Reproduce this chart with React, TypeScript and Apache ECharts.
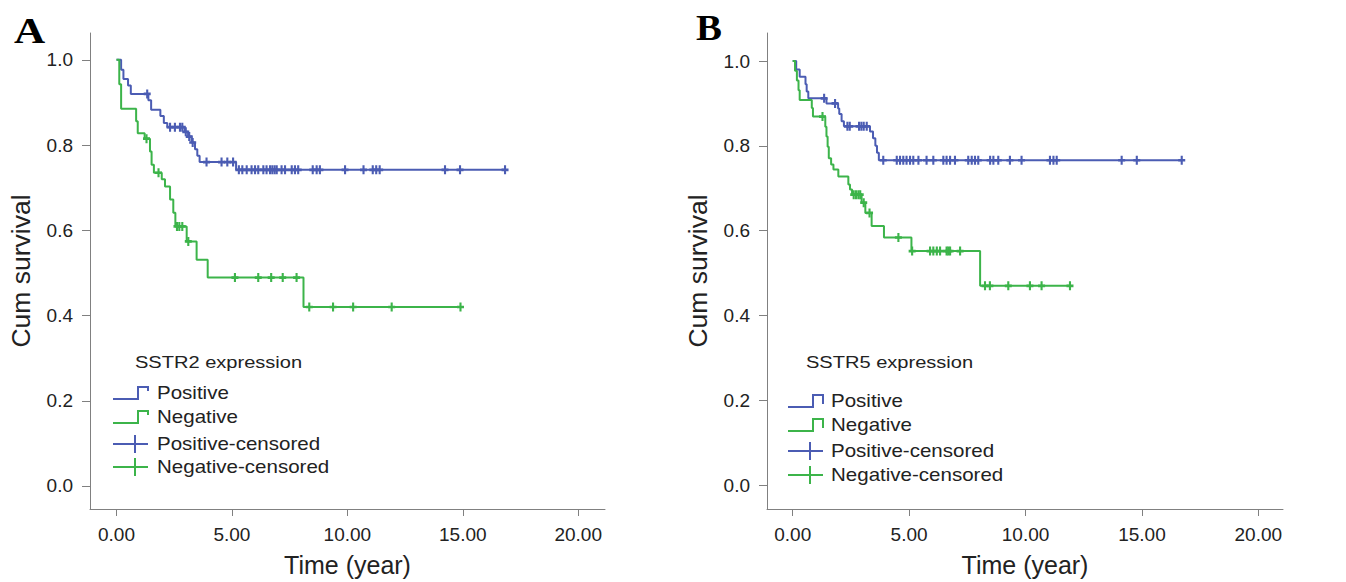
import React, { useEffect, useRef } from "react";
import * as echarts from "echarts";

// ---------- Data ----------
// Panel A: SSTR2 expression
const posA_t = [0, 0.2, 0.3, 0.5, 0.62, 1.38, 1.5, 1.9, 2.05, 2.2, 2.95, 3.1, 3.25, 3.4, 3.5, 3.6, 5.18];
const posA_s = [1.0, 0.977, 0.955, 0.94, 0.92, 0.905, 0.883, 0.868, 0.852, 0.842, 0.831, 0.82, 0.806, 0.79, 0.775, 0.76, 0.742];
const posA_cens = [1.33, 2.32, 2.53, 2.75, 2.85, 3.0, 3.15, 3.3, 3.9, 4.55, 4.8, 5.05, 5.3, 5.45, 5.64, 5.85, 6.0, 6.14, 6.36, 6.5, 6.65, 6.75, 6.85, 6.94, 7.15, 7.3, 7.59, 7.73, 7.87, 8.5, 8.67, 8.81, 9.9, 10.7, 11.1, 11.25, 11.4, 14.23, 14.88, 16.83];

const negA_t = [0, 0.12, 0.2, 0.85, 0.92, 1.22, 1.45, 1.52, 1.62, 1.96, 2.1, 2.32, 2.46, 2.55, 3.04, 3.47, 3.95, 8.1];
const negA_s = [1.0, 0.943, 0.885, 0.856, 0.828, 0.815, 0.785, 0.754, 0.735, 0.72, 0.703, 0.672, 0.641, 0.609, 0.574, 0.531, 0.489, 0.42];
const negA_cens = [1.3, 1.82, 2.62, 2.72, 2.85, 3.11, 5.13, 6.14, 6.7, 7.2, 7.8, 8.35, 9.38, 10.25, 11.92, 14.9];

// Panel B: SSTR5 expression
const posB_t = [0, 0.15, 0.3, 0.55, 0.6, 0.67, 1.45, 1.95, 2.0, 2.1, 2.2, 3.32, 3.45, 3.55, 3.62, 3.7];
const posB_s = [1.0, 0.98, 0.963, 0.945, 0.928, 0.912, 0.9, 0.888, 0.875, 0.858, 0.846, 0.834, 0.818, 0.8, 0.784, 0.766];
const posB_cens = [1.35, 1.82, 2.35, 2.45, 2.85, 2.95, 3.05, 3.18, 3.89, 4.47, 4.61, 4.75, 4.89, 5.04, 5.18, 5.4, 5.75, 6.04, 6.47, 6.61, 6.76, 6.97, 7.54, 7.69, 7.83, 7.97, 8.48, 8.62, 8.83, 9.33, 9.83, 11.05, 11.2, 11.34, 14.13, 14.78, 16.71];

const negB_t = [0, 0.1, 0.18, 0.25, 0.3, 0.82, 0.87, 1.4, 1.45, 1.5, 1.55, 1.65, 1.75, 1.96, 2.39, 2.46, 2.55, 2.96, 3.12, 3.39, 3.92, 5.1, 8.05];
const negB_s = [1.0, 0.977, 0.954, 0.931, 0.908, 0.889, 0.869, 0.845, 0.822, 0.798, 0.771, 0.756, 0.744, 0.728, 0.709, 0.697, 0.685, 0.666, 0.642, 0.611, 0.584, 0.552, 0.47];
const negB_cens = [1.28, 2.62, 2.72, 2.82, 2.9, 3.05, 3.3, 4.54, 5.13, 5.9, 6.04, 6.19, 6.33, 6.61, 6.68, 6.76, 7.19, 8.26, 8.47, 9.26, 10.19, 10.69, 11.91];

const xTicks = [0, 5, 10, 15, 20];
const yTicks = [0, 0.2, 0.4, 0.6, 0.8, 1.0];
const legendItems = ["Positive", "Negative", "Positive-censored", "Negative-censored"];

const BLUE = "#4b5cb3";
const GREEN = "#3cb44a";
const AXIS = "#808080";
const TEXT = "#222";
const FONT = "'Liberation Sans', Arial, sans-serif";

function survAt(ts: number[], ss: number[], t: number) {
  let s = ss[0];
  for (let i = 0; i < ts.length; i++) if (ts[i] <= t) s = ss[i];
  return s;
}
function stepData(ts: number[], ss: number[], cens: number[]) {
  const d = ts.map((t, i) => [t, ss[i]]);
  const lastC = cens[cens.length - 1];
  if (lastC > ts[ts.length - 1]) d.push([lastC, ss[ss.length - 1]]);
  return d;
}
function censData(ts: number[], ss: number[], cens: number[]) {
  return cens.map((t) => [t, survAt(ts, ss, t)]);
}

const PLUS = "path://M3.5,0H6.5V3.5H10V6.5H6.5V10H3.5V6.5H0V3.5H3.5Z";

function axes(idx: number, xmin: number, xmax: number, ymin: number, ymax: number) {
  const x = {
    type: "value", gridIndex: idx, min: xmin, max: xmax,
    splitLine: { show: false },
    axisLine: { show: true, onZero: false, lineStyle: { color: AXIS, width: 1 } },
    axisTick: { show: true, length: 7, customValues: xTicks, lineStyle: { color: AXIS } },
    axisLabel: { customValues: xTicks, margin: 16, color: TEXT, fontSize: 19, fontFamily: FONT, formatter: (v: number) => v.toFixed(2) },
    name: "Time (year)", nameLocation: "middle", nameGap: 43,
    nameTextStyle: { fontSize: 25, color: TEXT, fontFamily: FONT },
  };
  const y = {
    type: "value", gridIndex: idx, min: ymin, max: ymax,
    splitLine: { show: false },
    axisLine: { show: true, onZero: false, lineStyle: { color: AXIS, width: 1 } },
    axisTick: { show: true, length: 8, customValues: yTicks, lineStyle: { color: AXIS } },
    axisLabel: { customValues: yTicks, margin: 17, color: TEXT, fontSize: 19, fontFamily: FONT, formatter: (v: number) => v.toFixed(1) },
    name: "Cum survival", nameLocation: "middle", nameGap: 56,
    nameTextStyle: { fontSize: 26.5, color: TEXT, fontFamily: FONT },
  };
  return { x, y };
}

function legendGraphics(title: string, titleX: number, titleY: number, iconX: number, textX: number, ys: number[], legDrop: number) {
  const els: any[] = [];
  els.push({ type: "text", x: titleX, y: titleY, scaleX: 1.18, style: { text: title, fontSize: 17, fontFamily: FONT, fill: TEXT, textVerticalAlign: "middle", verticalAlign: "middle" } });
  legendItems.forEach((name, i) => {
    const y = ys[i];
    const col = i % 2 === 0 ? BLUE : GREEN;
    if (i < 2) {
      els.push({ type: "polyline", shape: { points: [[iconX, y + 6], [iconX + 25, y + 6], [iconX + 25, y - 6], [iconX + 35, y - 6], [iconX + 35, y - 6 + legDrop]] }, style: { stroke: col, lineWidth: 2, fill: null } });
    } else {
      els.push({ type: "line", shape: { x1: iconX, y1: y, x2: iconX + 35, y2: y }, style: { stroke: col, lineWidth: 2 } });
      els.push({ type: "line", shape: { x1: iconX + 22, y1: y - 9, x2: iconX + 22, y2: y + 9 }, style: { stroke: col, lineWidth: 2 } });
    }
    els.push({ type: "text", x: textX, y, scaleX: 1.14, style: { text: name, fontSize: 18, fontFamily: FONT, fill: TEXT, textVerticalAlign: "middle", verticalAlign: "middle" } });
  });
  return els;
}

export default function App() {
  const ref = useRef<HTMLDivElement>(null);
  useEffect(() => {
    if (!ref.current) return;
    const chart = echarts.init(ref.current, null, { renderer: "svg" });
    const a = axes(0, -1.148, 21.16, -0.054, 1.063);
    const b = axes(1, -1.104, 21.06, -0.056, 1.066);
    const lineS = (name: string, xi: number, data: any[], color: string) => ({
      name, type: "line", xAxisIndex: xi, yAxisIndex: xi, data, step: "end", symbol: "none",
      lineStyle: { color, width: 2 }, itemStyle: { color }, silent: true, z: 2,
    });
    const censS = (name: string, xi: number, data: any[], color: string) => ({
      name, type: "scatter", xAxisIndex: xi, yAxisIndex: xi, data, symbol: PLUS, symbolSize: [7, 9],
      itemStyle: { color, opacity: 1 }, silent: true, z: 3,
    });
    chart.setOption({
      animation: false,
      backgroundColor: "#fff",
      grid: [
        { left: 90, top: 33, width: 515, height: 477 },
        { left: 767, top: 33, width: 516, height: 478 },
      ],
      xAxis: [a.x, b.x],
      yAxis: [a.y, b.y],
      series: [
        lineS("Positive", 0, stepData(posA_t, posA_s, posA_cens), BLUE),
        lineS("Negative", 0, stepData(negA_t, negA_s, negA_cens), GREEN),
        censS("Positive-censored", 0, censData(posA_t, posA_s, posA_cens), BLUE),
        censS("Negative-censored", 0, censData(negA_t, negA_s, negA_cens), GREEN),
        lineS("Positive B", 1, stepData(posB_t, posB_s, posB_cens), BLUE),
        lineS("Negative B", 1, stepData(negB_t, negB_s, negB_cens), GREEN),
        censS("Positive-censored B", 1, censData(posB_t, posB_s, posB_cens), BLUE),
        censS("Negative-censored B", 1, censData(negB_t, negB_s, negB_cens), GREEN),
      ],
      graphic: [
        { type: "text", x: 14, y: 31, scaleX: 1.2, style: { text: "A", fontSize: 36, fontWeight: "bold", fontFamily: "'Liberation Serif', 'Times New Roman', serif", fill: "#000", textVerticalAlign: "middle", verticalAlign: "middle" } },
        { type: "text", x: 696, y: 28, scaleX: 1.08, style: { text: "B", fontSize: 36, fontWeight: "bold", fontFamily: "'Liberation Serif', 'Times New Roman', serif", fill: "#000", textVerticalAlign: "middle", verticalAlign: "middle" } },
        ...legendGraphics("SSTR2 expression", 135, 362, 113, 157, [393, 417, 444, 467], 4),
        ...legendGraphics("SSTR5 expression", 806, 362, 788, 831, [401, 425, 451, 475], 9),
      ],
    });
    return () => chart.dispose();
  }, []);
  return <div ref={ref} style={{ position: "fixed", left: 0, top: 0, width: 1346, height: 582, background: "#fff" }} />;
}
